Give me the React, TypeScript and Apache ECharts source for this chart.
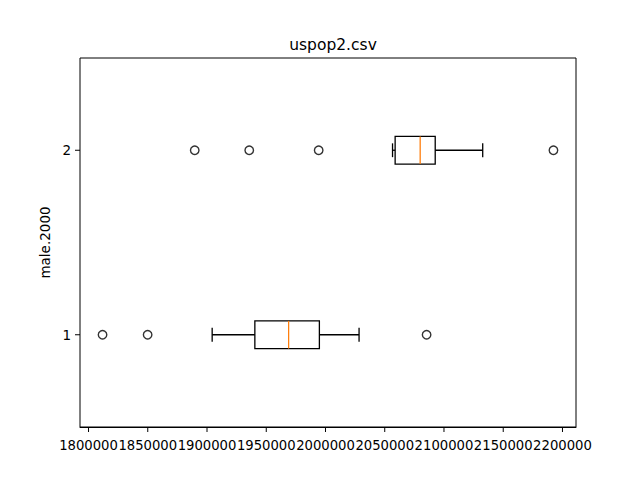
import React, { useEffect, useRef } from "react";
import * as echarts from "echarts";

const categories = ["1", "2"];
// [lower whisker, Q1, median, Q3, upper whisker]
const box1 = [1904355, 1940381, 1968879, 1994841, 2028330];
const box2 = [2056575, 2058774, 2079915, 2092600, 2132685];
const outliers1 = [1811839, 1849894, 2085328];
const outliers2 = [1889641, 1935645, 1994249, 2192389];
const xTicks = [1800000, 1850000, 1900000, 1950000, 2000000, 2050000, 2100000, 2150000, 2200000];

const FONT = "DejaVu Sans";

export default function App() {
  const ref = useRef<HTMLDivElement>(null);
  useEffect(() => {
    if (!ref.current) return;
    const chart = echarts.init(ref.current, undefined, { renderer: "svg" });
    const all = [...box1, ...box2, ...outliers1, ...outliers2];
    const lo = Math.min(...all);
    const hi = Math.max(...all);
    const m = (hi - lo) * 0.05;
    const boxes = [box1, box2];
    const outs = [outliers1, outliers2];
    const scatterData: number[][] = [];
    outs.forEach((arr, i) => arr.forEach((v) => scatterData.push([v, i])));
    chart.setOption({
      animation: false,
      title: {
        text: "uspop2.csv",
        left: 328,
        top: 32,
        textAlign: "center",
        textStyle: { fontFamily: FONT, fontSize: 15.5, fontWeight: "normal", color: "#000" },
      },
      grid: {
        left: 80,
        right: 64,
        top: 58,
        bottom: 53,
        show: true,
        borderColor: "#000",
        borderWidth: 1,
        backgroundColor: "#fff",
      },
      xAxis: {
        type: "value",
        min: lo - m,
        max: hi + m,
        splitLine: { show: false },
        axisLine: { show: true, onZero: false, lineStyle: { color: "#000", width: 1 } },
        axisTick: { show: false },
        axisLabel: {
          customValues: xTicks,
          formatter: (v: number) => String(v),
          fontFamily: FONT,
          fontSize: 13.2,
          color: "#000",
          margin: 12,
          hideOverlap: false,
        },
      },
      yAxis: {
        type: "category",
        data: categories,
        name: "male.2000",
        nameLocation: "middle",
        nameRotate: 90,
        nameGap: 26,
        nameTextStyle: { fontFamily: FONT, fontSize: 13.5, color: "#000" },
        axisLine: { show: false },
        axisTick: { show: false },
        axisLabel: { fontFamily: FONT, fontSize: 13.5, color: "#000", margin: 9 },
        splitLine: { show: false },
      },
      series: [
        {
          type: "custom",
          silent: true,
          clip: false,
          data: xTicks.map((v) => [v, 0]),
          encode: { x: 0, y: 1 },
          renderItem: (params: any, api: any) => {
            const pt = api.coord([api.value(0), 0]);
            const bottom = params.coordSys.y + params.coordSys.height;
            return {
              type: "line",
              shape: { x1: pt[0], y1: bottom, x2: pt[0], y2: bottom + 5 },
              style: { stroke: "#000", lineWidth: 1 },
            };
          },
        },
        {
          type: "custom",
          silent: true,
          clip: false,
          data: categories.map((c, i) => [lo, i]),
          encode: { x: 0, y: 1 },
          renderItem: (params: any, api: any) => {
            const pt = api.coord([api.value(0), api.value(1)]);
            const left = params.coordSys.x;
            return {
              type: "line",
              shape: { x1: left - 5, y1: pt[1], x2: left, y2: pt[1] },
              style: { stroke: "#000", lineWidth: 1 },
            };
          },
        },
        {
          type: "custom",
          data: boxes.map((b, i) => [i, ...b]),
          encode: { x: [1, 2, 3, 4, 5], y: 0 },
          renderItem: (params: any, api: any) => {
            const cat = api.value(0);
            const p = [1, 2, 3, 4, 5].map((k) => api.coord([api.value(k), cat]));
            const band = api.size([0, 1])[1];
            const h = band * 0.15;
            const cap = h * 0.5;
            const y = p[0][1];
            const ls = { stroke: "#000", lineWidth: 1.3, fill: "none" };
            return {
              type: "group",
              children: [
                { type: "line", shape: { x1: p[0][0], y1: y, x2: p[1][0], y2: y }, style: ls },
                { type: "line", shape: { x1: p[3][0], y1: y, x2: p[4][0], y2: y }, style: ls },
                { type: "line", shape: { x1: p[0][0], y1: y - cap / 2, x2: p[0][0], y2: y + cap / 2 }, style: ls },
                { type: "line", shape: { x1: p[4][0], y1: y - cap / 2, x2: p[4][0], y2: y + cap / 2 }, style: ls },
                {
                  type: "rect",
                  shape: { x: p[1][0], y: y - h / 2, width: p[3][0] - p[1][0], height: h },
                  style: { stroke: "#000", lineWidth: 1.3, fill: "none" },
                },
                {
                  type: "line",
                  shape: { x1: p[2][0], y1: y - h / 2, x2: p[2][0], y2: y + h / 2 },
                  style: { stroke: "#ff7f0e", lineWidth: 1.3 },
                },
              ],
            };
          },
        },
        {
          type: "scatter",
          data: scatterData,
          symbol: "circle",
          symbolSize: 8.5,
          itemStyle: { color: "rgba(0,0,0,0)", borderColor: "#000", borderWidth: 1.4 },
        },
      ],
    });
    return () => chart.dispose();
  }, []);
  return <div ref={ref} style={{ width: 640, height: 480, margin: -8 }} />;
}
